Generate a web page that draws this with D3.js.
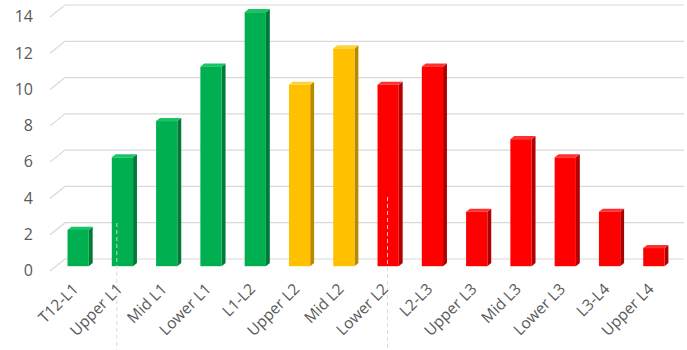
<!DOCTYPE html>
<html>
<head>
<meta charset="utf-8">
<script src="https://cdn.jsdelivr.net/npm/d3@7"></script>
<style>
  html, body { margin: 0; padding: 0; background: #fff; }
  svg { display: block; }
</style>
</head>
<body>
<svg id="chart" width="687" height="350"></svg>
<script>
// Segment labels along the spine
const categories = ["T12-L1", "Upper L1", "Mid L1", "Lower L1", "L1-L2", "Upper L2", "Mid L2",
  "Lower L2", "L2-L3", "Upper L3", "Mid L3", "Lower L3", "L3-L4", "Upper L4"];
// Counts per segment
const counts = [2, 6, 8, 11, 14, 10, 12, 10, 11, 3, 7, 6, 3, 1];
// Colour group per segment
const groups = ["g", "g", "g", "g", "g", "y", "y", "r", "r", "r", "r", "r", "r", "r"];
const yTicks = [0, 2, 4, 6, 8, 10, 12, 14];

const palette = {
  g: { front: "#00b050", side: "#007a37", top: "#19c465" },
  y: { front: "#ffc000", side: "#b88a00", top: "#ffd040" },
  r: { front: "#ff0000", side: "#b00000", top: "#ff3030" }
};

const svg = d3.select("#chart");

// oblique projection: depth d in [0,1] shifts right and up
const DX = 15, DY = -12;
const proj = (x, y, d) => [x + DX * d, y + DY * d];

const x = d3.scaleBand().domain(categories).range([50, 670]).paddingInner(0.52).paddingOuter(0.26);
const y = d3.scaleLinear().domain([0, 14]).range([271, 17]);

// back wall gridlines with floor-side diagonal
const grid = svg.append("g");
yTicks.forEach(t => {
  const [bx, by] = proj(50, y(t), 1);
  grid.append("path")
    .attr("d", `M50,${y(t)}L${bx},${by}L684,${by}`)
    .attr("fill", "none")
    .attr("stroke", "#d9d9d9")
    .attr("stroke-width", 1.2);
});

// y-axis labels
svg.append("g").selectAll("text").data(yTicks).join("text")
  .attr("x", 33)
  .attr("y", d => y(d) + 1)
  .attr("text-anchor", "end")
  .attr("dominant-baseline", "middle")
  .attr("font-family", "Open Sans, sans-serif")
  .attr("font-size", 16)
  .attr("fill", "#595959")
  .text(d => d);

// 3D bars
const D0 = 0.4, D1 = 0.66;
const bars = svg.append("g");
categories.forEach((c, i) => {
  const v = counts[i];
  const col = palette[groups[i]];
  const x0 = x(c), x1 = x(c) + x.bandwidth();
  const yb = y(0), yt = y(v);
  const pt = (px, py, d) => proj(px, py, d).join(",");
  const g = bars.append("g");
  // right side face
  g.append("polygon")
    .attr("points", [pt(x1, yb, D0), pt(x1, yb, D1), pt(x1, yt, D1), pt(x1, yt, D0)].join(" "))
    .attr("fill", col.side);
  // top face
  g.append("polygon")
    .attr("points", [pt(x0, yt, D0), pt(x1, yt, D0), pt(x1, yt, D1), pt(x0, yt, D1)].join(" "))
    .attr("fill", col.top);
  // front face
  const [fx, fy] = proj(x0, yt, D0);
  g.append("rect")
    .attr("x", fx).attr("y", fy)
    .attr("width", x1 - x0)
    .attr("height", yb - yt)
    .attr("fill", col.front);
});

// dashed separators between segment groups
const seps = [{ i: 1, shift: 5, top: 223 }, { i: 7, shift: 10, top: 197 }];
seps.forEach(s => {
  const cx = proj(x(categories[s.i]), 0, D0)[0] + s.shift;
  svg.append("line")
    .attr("x1", cx).attr("x2", cx)
    .attr("y1", s.top).attr("y2", 350)
    .attr("stroke", "rgba(215,215,215,0.9)")
    .attr("stroke-dasharray", "4,3")
    .attr("stroke-width", 1);
});

// category labels, rotated
svg.append("g").selectAll("text").data(categories).join("text")
  .attr("transform", d => {
    const cx = proj(x(d) + x.bandwidth() / 2, 0, D0)[0] + 1;
    return `translate(${cx},${290}) rotate(-45)`;
  })
  .attr("text-anchor", "end")
  .attr("font-family", "Open Sans, sans-serif")
  .attr("font-size", 15.5)
  .attr("fill", "#595959")
  .text(d => d);
</script>
</body>
</html>
